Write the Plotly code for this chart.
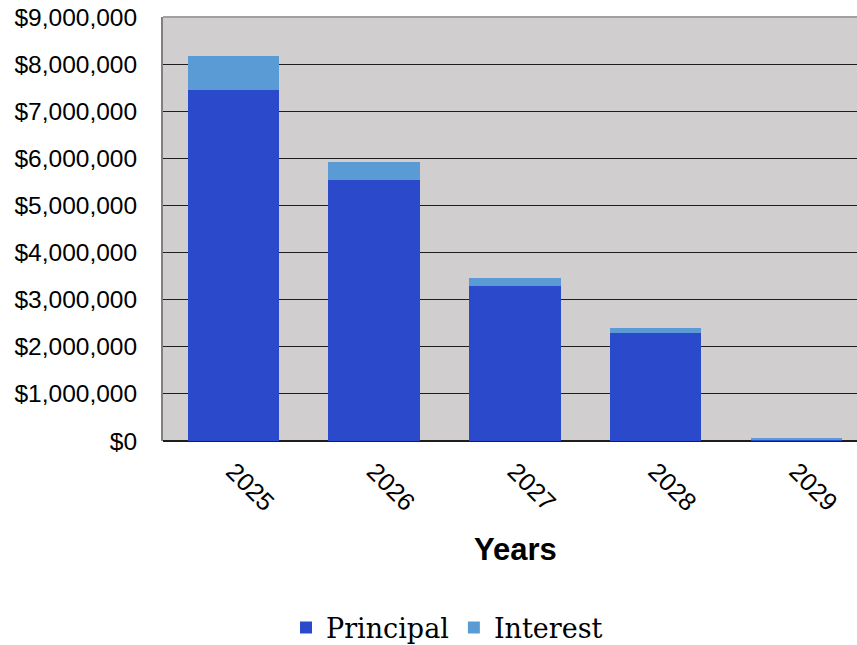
import plotly.graph_objects as go

years = ["2025", "2026", "2027", "2028", "2029"]
principal = [7440000, 5530000, 3280000, 2300000, 25000]
interest = [730000, 390000, 180000, 100000, 40000]

PRINCIPAL_COLOR = "#2B4ACB"
INTEREST_COLOR = "#5B9BD5"

fig = go.Figure()
fig.add_trace(go.Bar(x=years, y=principal, name="Principal",
                     marker=dict(color=PRINCIPAL_COLOR, line=dict(width=0))))
fig.add_trace(go.Bar(x=years, y=interest, name="Interest",
                     marker=dict(color=INTEREST_COLOR, line=dict(width=0))))

W, H = 857, 645
L, R, T, B = 163, 0, 17, 204
pw, ph = W - L - R, H - T - B

def px_x(x):
    return (x - L) / pw

def px_y(y):
    return (H - B - y) / ph

fig.update_layout(
    width=W, height=H,
    margin=dict(l=L, r=R, t=T, b=B, pad=0, autoexpand=False),
    barmode="stack",
    bargap=0.35,
    plot_bgcolor="#D0CECF",
    paper_bgcolor="#FFFFFF",
    font=dict(family="Liberation Sans, Arial, sans-serif", color="#000000", size=24),
    showlegend=True,
    legend=dict(
        orientation="h",
        x=px_x(447), y=px_y(628),
        xanchor="center", yanchor="middle",
        font=dict(family="DejaVu Serif, Liberation Serif, serif", size=27, color="#000000"),
        itemwidth=30,
        traceorder="normal",
        bgcolor="rgba(0,0,0,0)",
    ),
    annotations=[dict(
        text="<b>Years</b>", xref="paper", yref="paper",
        x=px_x(515), y=px_y(549), xanchor="center", yanchor="middle",
        showarrow=False,
        font=dict(family="Liberation Sans, Arial, sans-serif", size=31, color="#000000"),
    )],
)

fig.update_xaxes(
    type="category",
    range=[-0.5, 4.43],
    tickangle=45,
    tickfont=dict(size=25),
    showgrid=False,
    showline=False,
    ticks="",
    ticklabelstandoff=10,
)

fig.update_yaxes(
    range=[0, 9000000],
    dtick=1000000,
    tickprefix="$",
    tickformat=",d",
    tickfont=dict(size=24.5),
    showgrid=True,
    gridcolor="#1E1E1E",
    gridwidth=1,
    zeroline=True,
    zerolinecolor="#1E1E1E",
    zerolinewidth=1.5,
    showline=True,
    linecolor="#808080",
    linewidth=2,
    mirror=False,
    ticks="",
    ticklabelstandoff=19,
)

# light border along the top of the plotting area
fig.add_shape(type="line", xref="paper", yref="paper", x0=0, x1=1, y0=1, y1=1,
              line=dict(color="#A0A0A0", width=2))

fig.write_html("out.html")
